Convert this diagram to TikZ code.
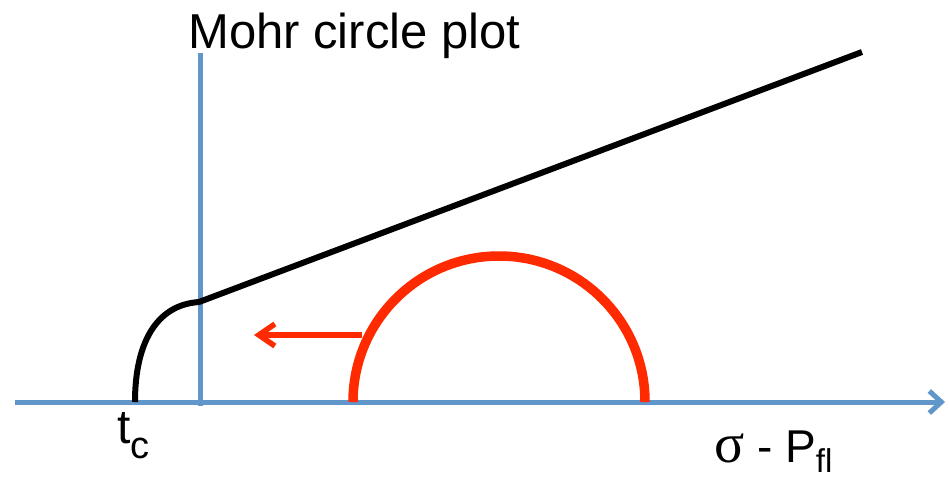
\documentclass[tikz,border=0pt]{standalone}
\usepackage{fontspec}
\setmainfont{Liberation Sans}
\newfontfamily\greekfont{Liberation Serif}
\usepackage{xcolor}
\definecolor{AxisBlue}{HTML}{6196CB}
\definecolor{Stress}{HTML}{FF2A00}
\usetikzlibrary{arrows.meta,positioning}

\begin{document}
\begin{tikzpicture}[x=1pt,y=-1pt,every node/.style={inner sep=0pt},
  axis/.style={draw=AxisBlue,line width=5pt},
  envelope/.style={draw=black,line width=6pt},
  mohr/.style={draw=Stress,line width=9.5pt}]
\useasboundingbox (0,0) rectangle (949,477);
\coordinate (xs) at (15,402);
\coordinate (xe) at (945,402);
\coordinate (ys) at (200,406);
\coordinate (ye) at (200,53);
\coordinate (tc) at (135,402);
\coordinate (c0) at (199,302);
\coordinate (c1) at (862,52);
\coordinate (cl) at (353,402);
\coordinate (ar) at (362,335);
\coordinate (al) at (254,335);
% axes
\draw[axis] (ys)--(ye);
\draw[axis,-{Straight Barb[length=12pt,width=22pt,line width=5pt]}] (xs)--(xe);
% failure envelope
\draw[envelope] (tc) .. controls (135,345) and (155,305) .. (c0) -- (c1);
% circle and shift
\draw[mohr] (cl) arc[start angle=180,end angle=360,radius=146];
\draw[draw=Stress,line width=5.5pt,-{Straight Barb[length=16pt,width=22pt,line width=5.5pt]}] (ar)--(al);
% labels
\node[anchor=base west,font=\fontsize{49}{52}\selectfont] (title) at (188,48) {Mohr circle plot};
\node[anchor=base west,font=\fontsize{48}{52}\selectfont] (tlab) at (117,443) {t\raisebox{-15pt}{\fontsize{38}{38}\selectfont c}};
\node[anchor=base west,font=\fontsize{46}{50}\selectfont] (slab) at (714,462) {{\greekfont\fontsize{56}{56}\selectfont σ} - P\raisebox{-10pt}{\fontsize{33}{33}\selectfont fl}};
\end{tikzpicture}
\end{document}
